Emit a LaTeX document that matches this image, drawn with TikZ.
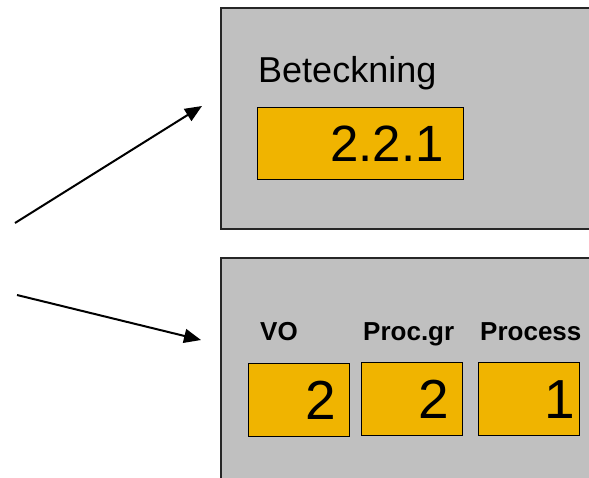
\documentclass[tikz,border=0pt]{standalone}
\usepackage{fontspec}
\setmainfont{Liberation Sans}
\usepackage{xcolor}
\usepackage{tikz}
\usetikzlibrary{arrows.meta, positioning}

\definecolor{panelgray}{HTML}{C0C0C0}
\definecolor{fieldorange}{HTML}{F0B400}

\begin{document}
\begin{tikzpicture}[
    x=1pt, y=-1pt,
    panel/.style={draw=black!85, line width=1.6pt, fill=panelgray, anchor=north west, inner sep=0pt},
    field/.style={draw=black, line width=1.4pt, fill=fieldorange, anchor=north west, align=right, inner ysep=0pt},
    bigfield/.style={field, inner xsep=20pt, text width=166pt, minimum height=72pt, font=\fontsize{51}{51}\selectfont},
    smallfield/.style={field, inner xsep=14pt, text width=73pt, minimum height=73pt, font=\fontsize{55}{55}\selectfont},
    caption/.style={anchor=base west, inner sep=0pt, font=\fontsize{26}{26}\selectfont\bfseries},
    pointer/.style={-{Triangle[length=17pt, width=14pt]}, line width=2pt}
]
\useasboundingbox (0,0) rectangle (589,477);
\clip (0,0) rectangle (589,477);

% upper panel: full designation
\node[panel, minimum width=380pt, minimum height=221pt] (betpanel) at (220,7) {};
\node[anchor=base west, inner sep=0pt, font=\fontsize{36}{36}\selectfont] (betlabel) at (258,82) {Beteckning};
\node[bigfield] (betfield) at (257,107) {2.2.1};

% lower panel: the three parts
\node[panel, minimum width=380pt, minimum height=240pt] (partspanel) at (220,257) {};
\node[caption] (volabel) at (260,340) {VO};
\node[caption] (pglabel) at (363,340) {Proc.gr};
\node[caption] (proclabel) at (480,340) {Process};
\node[smallfield] (vofield) at (248,363) {2};
\node[smallfield] (pgfield) at (361,362) {2};
\node[smallfield, inner xsep=5pt, text width=91pt] (procfield) at (478,362) {1};

% pointers
\coordinate (upperfrom) at (15,223);
\coordinate (upperto) at (202,106);
\coordinate (lowerfrom) at (17,295);
\coordinate (lowerto) at (201,340);
\draw[pointer] (upperfrom) -- (upperto);
\draw[pointer] (lowerfrom) -- (lowerto);

\end{tikzpicture}
\end{document}
